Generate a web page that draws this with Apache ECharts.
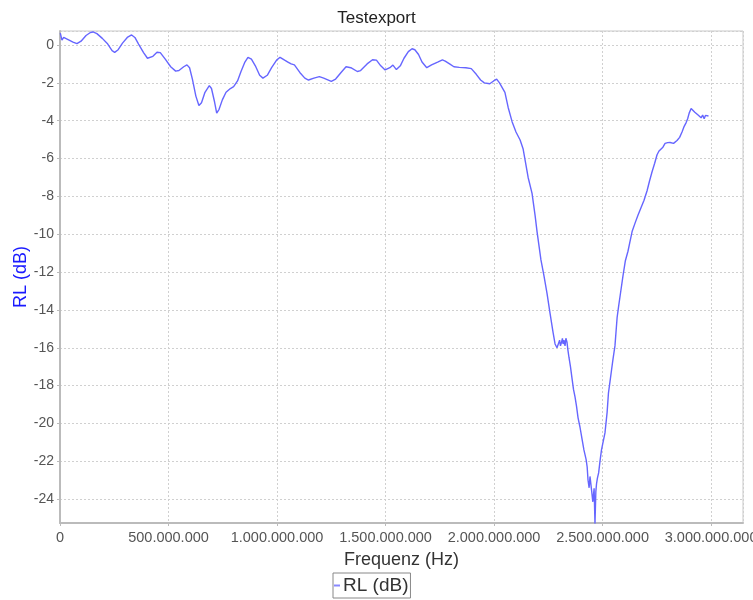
<!DOCTYPE html>
<html>
<head>
<meta charset="utf-8">
<script src="https://cdn.jsdelivr.net/npm/echarts@6/dist/echarts.min.js"></script>
<style>
html,body{margin:0;padding:0;background:#fff;}
#chart{width:753px;height:600px;}
</style>
</head>
<body>
<div id="chart"></div>
<script>
const chartTitle = "Testexport";
const xAxisName = "Frequenz (Hz)";
const seriesName = "RL (dB)";
// frequency in MHz
const freqMHz = [1.4,9,17,35,60,78,97,120,140,152,170,195,220,240,252,268,288,310,330,345,362,385,403,412,428,447,462,485,510,533,548,570,585,597,610,626,640,652,668,688,698,712,722,733,748,765,785,800,818,834,852,866,882,900,920,935,955,975,998,1014,1035,1050,1065,1080,1105,1128,1145,1170,1195,1215,1250,1270,1295,1318,1340,1370,1385,1415,1440,1458,1478,1498,1520,1534,1550,1568,1585,1605,1622,1635,1652,1668,1690,1712,1740,1762,1775,1795,1815,1840,1870,1895,1918,1938,1955,1980,1998,2012,2025,2050,2065,2083,2101,2120,2134,2143,2157,2175,2189,2198,2216,2230,2244,2258,2272,2281,2290,2297,2302,2306,2311,2315,2318,2322,2327,2331,2336,2340,2345,2352,2359,2366,2373,2380,2387,2396,2405,2414,2424,2429,2433,2438,2442,2446,2450,2455,2461,2465,2469,2472,2476,2482,2488,2495,2502,2511,2521,2527,2534,2541,2548,2557,2567,2574,2584,2594,2605,2617,2626,2636,2650,2663,2677,2691,2705,2716,2728,2740,2751,2760,2769,2778,2788,2800,2811,2827,2843,2855,2866,2876,2885,2892,2899,2908,2917,2925,2932,2940,2948,2954,2961,2968,2974,2981,2988,2995];
// return loss in dB
const rlDb = [0.63,0.26,0.40,0.3,0.15,0.07,0.2,0.5,0.66,0.69,0.6,0.35,0.05,-0.3,-0.39,-0.25,0.1,0.4,0.53,0.4,0.05,-0.4,-0.7,-0.78,-0.6,-0.38,-0.4,-0.75,-1.15,-1.38,-1.35,-1.15,-1.05,-1.2,-1.8,-2.7,-3.2,-3.05,-2.5,-2.15,-2.3,-3.0,-3.6,-3.4,-2.9,-2.5,-2.3,-2.2,-1.9,-1.4,-0.9,-0.65,-0.75,-1.1,-1.6,-1.75,-1.6,-1.2,-0.8,-0.65,-0.8,-0.9,-1.0,-1.05,-1.45,-1.75,-1.85,-1.75,-1.67,-1.75,-1.92,-1.8,-1.45,-1.15,-1.2,-1.4,-1.35,-1.0,-0.78,-0.8,-1.1,-1.32,-1.2,-1.06,-1.3,-1.1,-0.7,-0.35,-0.2,-0.25,-0.5,-0.9,-1.2,-1.05,-0.9,-0.78,-0.85,-1.0,-1.15,-1.18,-1.2,-1.25,-1.55,-1.85,-2.0,-2.05,-1.9,-1.8,-2.0,-2.5,-3.3,-4.05,-4.6,-5.02,-5.5,-6.08,-7.0,-7.84,-9.0,-9.86,-11.36,-12.2,-13.12,-14.18,-15.2,-15.8,-16.0,-15.9,-15.6,-15.9,-15.7,-15.5,-15.8,-15.6,-15.9,-15.5,-15.7,-16.1,-16.5,-17.0,-17.6,-18.2,-18.6,-19.1,-19.7,-20.2,-20.8,-21.4,-21.9,-22.3,-23.0,-23.4,-22.8,-22.9,-23.6,-24.14,-23.43,-25.3,-23.6,-23.2,-22.9,-22.6,-22.0,-21.4,-21.0,-20.5,-19.4,-18.4,-17.8,-17.2,-16.6,-15.9,-14.4,-13.8,-13.0,-12.2,-11.4,-10.9,-10.4,-9.86,-9.4,-9.0,-8.6,-8.2,-7.7,-7.2,-6.7,-6.25,-5.8,-5.6,-5.5,-5.4,-5.2,-5.16,-5.15,-5.2,-5.05,-4.88,-4.6,-4.3,-4.1,-3.9,-3.6,-3.35,-3.45,-3.55,-3.5,-3.7,-3.65,-3.85,-3.7,-3.9,-3.72,-3.8,-3.75];

const seriesData = freqMHz.map((f, i) => [f * 1e6, rlDb[i]]);

function fmtDots(v) {
  return String(Math.round(v)).replace(/\B(?=(\d{3})+(?!\d))/g, '.');
}

const chart = echarts.init(document.getElementById('chart'), null, {renderer: 'canvas'});
const fontFamily = '"Liberation Sans", Arial, sans-serif';
chart.setOption({
  animation: false,
  backgroundColor: '#ffffff',
  title: {
    text: chartTitle,
    left: 'center',
    top: 5,
    textStyle: {fontFamily: fontFamily, fontSize: 17, fontWeight: 'normal', color: '#222'}
  },
  legend: {
    data: [seriesName],
    left: 333,
    top: 573,
    icon: 'rect',
    itemWidth: 6,
    itemHeight: 2,
    itemGap: 2,
    padding: [3, 2, 3, 1],
    borderColor: '#888',
    borderWidth: 1,
    textStyle: {fontFamily: fontFamily, fontSize: 19, color: '#333', padding: [0, 0, 0, -2]}
  },
  grid: {
    left: 60, right: 10, top: 31, bottom: 77,
    outerBoundsMode: 'none',
    containLabel: false,
    show: true,
    borderColor: '#c8c8c8',
    borderWidth: 1
  },
  xAxis: {
    type: 'value',
    min: 0,
    max: 3.147e9,
    interval: 5e8,
    name: xAxisName,
    nameLocation: 'middle',
    nameGap: 28,
    nameMoveOverlap: false,
    nameTextStyle: {fontFamily: fontFamily, fontSize: 18, color: '#333'},
    axisLine: {show: true, onZero: false, lineStyle: {color: '#bbbbbb', width: 2}},
    axisTick: {show: true, length: 3, lineStyle: {color: '#bbbbbb'}},
    axisLabel: {
      fontFamily: fontFamily, fontSize: 14.5, color: '#555', margin: 7,
      showMaxLabel: false,
      formatter: fmtDots
    },
    splitLine: {show: true, lineStyle: {color: '#d0d0d0', type: [2, 2], width: 1}}
  },
  yAxis: {
    type: 'value',
    min: -25.26,
    max: 0.74,
    splitNumber: 13,
    name: seriesName,
    nameLocation: 'middle',
    nameGap: 30,
    nameMoveOverlap: false,
    nameTextStyle: {fontFamily: fontFamily, fontSize: 18, color: '#1a1aff'},
    axisLine: {show: true, lineStyle: {color: '#bbbbbb', width: 2}},
    axisTick: {show: true, length: 3, lineStyle: {color: '#bbbbbb'}},
    axisLabel: {
      fontFamily: fontFamily, fontSize: 14, color: '#555', margin: 6,
      showMinLabel: false, showMaxLabel: false,
      formatter: function (v) { return String(Math.round(v)); }
    },
    splitLine: {show: true, lineStyle: {color: '#d0d0d0', type: [2, 2], width: 1}}
  },
  series: [{
    name: seriesName,
    type: 'line',
    data: seriesData,
    showSymbol: false,
    symbol: 'none',
    lineStyle: {color: '#6666ff', width: 1.4},
    itemStyle: {color: '#8888ff'}
  }]
});
</script>
</body>
</html>
